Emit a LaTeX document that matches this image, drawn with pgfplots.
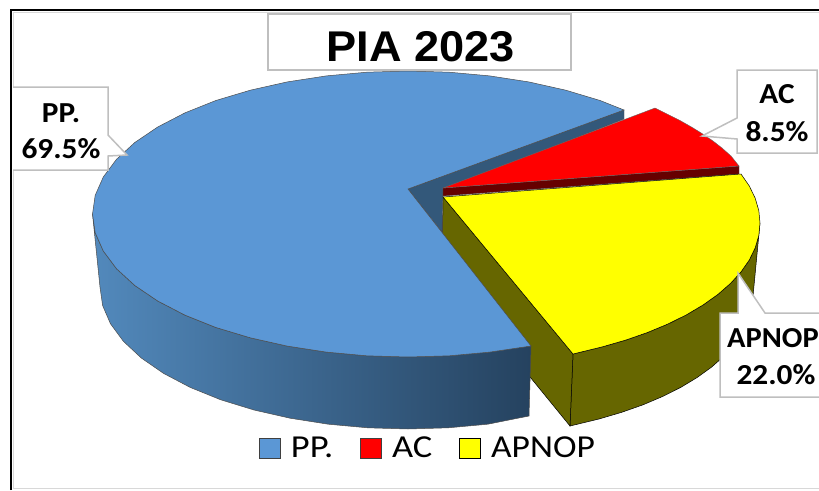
\documentclass[border=0pt]{standalone}
\usepackage{graphicx}
\usepackage{fontspec}
\setmainfont{Carlito}
\newfontfamily\titlefont{Liberation Sans}
\usepackage{pgfplots}
\pgfplotsset{compat=1.18}
\definecolor{pblue}{HTML}{5B97D5}
\definecolor{pwall}{HTML}{33587A}
\definecolor{pbl}{HTML}{5289BC}
\definecolor{pbr}{HTML}{25425F}
\definecolor{polive}{HTML}{666600}
\definecolor{pdred}{HTML}{660000}
\definecolor{lbl}{HTML}{BFBFBF}
\definecolor{pyellow}{HTML}{FFFF00}
\definecolor{pred}{HTML}{FF0000}
\newcommand{\lab}[2]{\node[font=\fontsize{29}{35}\selectfont\bfseries,inner sep=0pt] at (#1) {\scalebox{1.08}[1]{#2}};}
\begin{document}
\begin{tikzpicture}
\useasboundingbox (0,0) rectangle (819pt,490pt);
\begin{axis}[at={(0,0)},anchor=south west,scale only axis,width=819pt,height=490pt,
  xmin=0,xmax=819,ymin=0,ymax=490,y dir=reverse,hide axis,clip=false,
  legend columns=-1,
  legend image code/.code={\draw[#1] (0pt,-10pt) rectangle (21pt,10pt);},
  legend style={at={(axis cs:427,448)},anchor=center,draw=none,fill=none,inner sep=0pt,
    nodes={inner sep=0pt,font=\fontsize{32}{37}\selectfont},
    /tikz/every odd column/.append style={column sep=10pt},
    /tikz/every even column/.append style={column sep=27pt}},
]
% frame
\draw[lbl!60,line width=1pt] (13,12)--(819,12);
\draw[lbl!60,line width=1pt] (13,12)--(13,488)--(819,488);
\draw[black,line width=2pt] (10.5,490)--(10.5,10)--(819,10);
% yellow outer side
\addplot[forget plot,fill=polive,draw=black,line width=0.5pt] coordinates {
(760,223)(758.8,235.5)(755.2,247.8)(749.3,260)(741,271.9)(730.5,283.4)(717.8,294.5)(703,305)(686.3,314.9)(667.7,324.1)(647.5,332.5)(625.7,340.1)(602.5,346.8)(573,354)
(570,426)(599,419)(621.7,412.3)(643,404.8)(662.8,396.4)(680.9,387.3)(697.3,377.4)(711.7,367)(724.1,356)(734.4,344.6)(742.5,332.8)(748.3,320.7)(751.8,308.4)(753,296)
} -- cycle;
% yellow inner wall
\addplot[forget plot,fill=polive,draw=black,line width=0.5pt] coordinates {(443,197)(573,354)(570,426)(442,269)} -- cycle;
% blue inner wall
\addplot[forget plot,fill=pwall,draw=black!70,line width=0.4pt] coordinates {(408,189)(624,110)(624,119)(443,190)(442,232)} -- cycle;
% blue side
\addplot[forget plot,left color=pbl,right color=pbr,draw=black!70,line width=0.5pt] coordinates {
(92.5,214)(95.2,232.7)(103.3,251)(116.5,268.7)(134.8,285.5)(157.7,301)(184.9,315.1)(215.9,327.5)(250.3,337.8)(287.3,346.1)(326.3,352.1)(366.8,355.8)(408,357)(449.2,355.8)(489.7,352.1)(531,346)
(529,416)(487.7,424.2)(448.2,427.8)(408,429)(367.8,427.8)(328.3,424.2)(290.1,418.2)(254,410)(220.5,399.7)(190.2,387.4)(163.6,373.4)(141.3,358)(123.4,341.3)(110.5,323.8)(102.6,305.5)(100,287)
} -- cycle;
% blue top
\addplot[forget plot,fill=pblue,draw=black!70,line width=0.5pt] coordinates {
(408,189)(624,110)(600.1,100.5)(565.8,90.2)(528.7,81.9)(489.7,75.9)(449.2,72.2)(408,71)(366.8,72.2)(326.3,75.9)(287.3,81.9)(250.3,90.2)(215.9,100.5)(184.9,112.9)(157.7,127)(134.8,142.5)(116.5,159.3)(103.3,177)(95.2,195.3)(92.5,214)(95.2,232.7)(103.3,251)(116.5,268.7)(134.8,285.5)(157.7,301)(184.9,315.1)(215.9,327.5)(250.3,337.8)(287.3,346.1)(326.3,352.1)(366.8,355.8)(408,357)(449.2,355.8)(489.7,352.1)(531,346)
} -- cycle;
% red side and top
\addplot[forget plot,fill=pdred,draw=black!70,line width=0.4pt] coordinates {(443,188)(739,166)(739,174)(443,196)} -- cycle;
\addplot[forget plot,fill=pred,draw=black!60,line width=0.4pt] coordinates {(443,188)(655,108)(668,114.5)(680,120.5)(692,127.3)(702,133.5)(713,141)(722,148)(731,156)(739,166)} -- cycle;
% yellow top
\addplot[forget plot,fill=pyellow,draw=black,line width=0.5pt] coordinates {
(443,197)(741,174)(749.3,186)(755.2,198.2)(758.8,210.5)(760,223)(758.8,235.5)(755.2,247.8)(749.3,260)(741,271.9)(730.5,283.4)(717.8,294.5)(703,305)(686.3,314.9)(667.7,324.1)(647.5,332.5)(625.7,340.1)(602.5,346.8)(573,354)
} -- cycle;
% legend
\addlegendimage{fill=pblue,draw=black!75,line width=0.8pt}
\addlegendentry{\scalebox{1.14}[1]{PP.}}
\addlegendimage{fill=pred,draw=black!75,line width=0.8pt}
\addlegendentry{\scalebox{1.14}[1]{AC}}
\addlegendimage{fill=pyellow,draw=black,line width=0.8pt}
\addlegendentry{\scalebox{1.11}[1]{APNOP}}
% title
\draw[lbl,line width=1.5pt,fill=white] (268,14) rectangle (571,70);
\node[inner sep=0pt,font=\titlefont\fontsize{43}{50}\selectfont\bfseries] at (420.5,46.5) {\scalebox{1.05}[1]{PIA 2023}};
% data labels
\draw[lbl,line width=1.5pt,fill=white] (13,87)--(108,87)--(108,135)--(127,155)--(108,156)--(108,170)--(13,170);
\lab{61,113}{PP.}
\lab{61,149}{69.5\%}
\draw[lbl,line width=1.5pt,fill=white] (737,70)--(817,70)--(817,153)--(737,153)--(737,139)--(702,136)--(737,118)--cycle;
\lab{777,94}{AC}
\lab{777,132}{8.5\%}
\draw[lbl,line width=1.5pt,fill=white] (738,273)--(765,313)--(830,313)--(830,397)--(720,397)--(720,313)--(738,313)--cycle;
\node[anchor=west,inner sep=0pt,font=\fontsize{29}{35}\selectfont\bfseries] at (727,338) {\scalebox{1.05}[1]{APNOP}};
\lab{776,375}{22.0\%}
\end{axis}
\end{tikzpicture}
\end{document}
